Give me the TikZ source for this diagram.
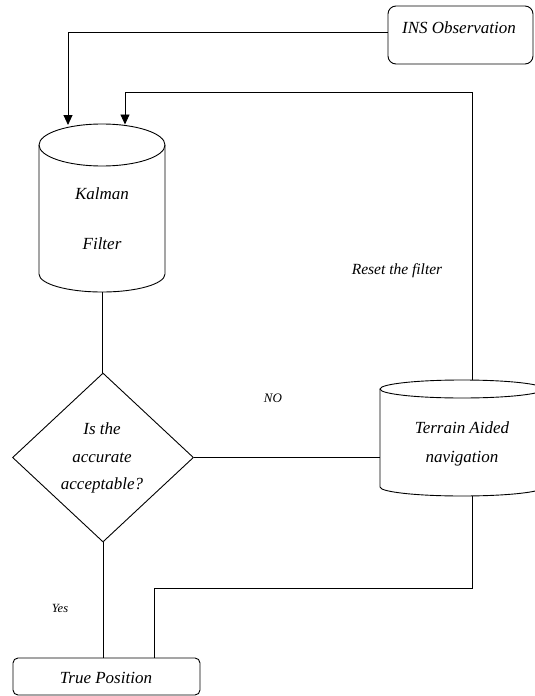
\documentclass[tikz,border=0pt]{standalone}
\usepackage{fontspec}
\setmainfont{Liberation Serif}
\usetikzlibrary{shapes.geometric,arrows.meta,calc}
\begin{document}
\begin{tikzpicture}[x=1pt,y=-1pt,line width=0.9pt,
  txt/.style={font=\itshape\fontsize{17}{20}\selectfont,inner sep=0pt,anchor=base},
  small/.style={font=\itshape\fontsize{15.5}{18}\selectfont,inner sep=0pt,anchor=base},
  tiny/.style={font=\itshape\fontsize{13}{16}\selectfont,inner sep=0pt,anchor=base},
  box/.style={draw,rectangle,inner sep=0pt},
  ghost/.style={rectangle,inner sep=0pt,outer sep=0pt},
  arr/.style={-{Triangle[length=10pt,width=9pt]}}]
\useasboundingbox (0,0) rectangle (535,696);

% INS Observation box
\node[box,rounded corners=8pt,minimum width=145pt,minimum height=58pt] (ins) at (460.5,35) {};
\node[txt] (inst) at (459,33.5) {INS Observation};

% Kalman filter cylinder
\node[ghost,minimum width=126pt,minimum height=168pt] (kf) at (102,208) {};
\draw (102,145) ellipse [x radius=63, y radius=21];
\draw (39,145) -- (39,274) arc[start angle=180,end angle=0,x radius=63,y radius=18] -- (165,145);
\node[txt] (kft1) at (102,199.5) {Kalman};
\node[txt] (kft2) at (102,249.5) {Filter};
\coordinate (kfa) at (68,125);
\coordinate (kfb) at (125,124.5);

% Decision diamond
\node[draw,diamond,inner sep=0pt,minimum width=181pt,minimum height=169pt] (dec) at (103,457.5) {};
\node[txt] (d1) at (102,434.5) {Is the};
\node[txt] (d2) at (102,462) {accurate};
\node[txt] (d3) at (102,489.5) {acceptable?};

% Terrain aided navigation cylinder
\node[ghost,minimum width=164pt,minimum height=116pt] (tan) at (462,438) {};
\draw (462,389) ellipse [x radius=82, y radius=9];
\draw (380,389) -- (380,487) arc[start angle=180,end angle=0,x radius=82,y radius=9] -- (544,389);
\node[txt] (t1) at (462,433.5) {Terrain Aided};
\node[txt] (t2) at (462,462.5) {navigation};
\coordinate (tanT) at (472,380);
\coordinate (tanB) at (472,496);

% True position box
\node[box,rounded corners=5pt,minimum width=187pt,minimum height=37pt] (tp) at (106.5,676.5) {};
\node[txt] (tpt) at (106,683.5) {True Position};

% connectors
\draw[arr] ([yshift=3pt]ins.west) -| (kfa);
\coordinate (rt) at (472,92);
\draw[arr] (tanT) -- (rt) -| (kfb);
\draw (kf.south) -- (kf.south |- dec.north);
\draw (dec.east) -- (dec.east -| tan.west);
\draw (dec.south) -- (dec.south |- tp.north);
\coordinate (bend) at (472,588);
\draw (tanB) -- (bend) -| ([xshift=47.5pt]tp.north);

% edge labels
\node[small] (reset) at (397,274) {Reset the filter};
\node[tiny] (no) at (273,402) {NO};
\node[tiny,font=\itshape\fontsize{12.5}{15}\selectfont] (yes) at (60,612.5) {Yes};
\end{tikzpicture}
\end{document}
